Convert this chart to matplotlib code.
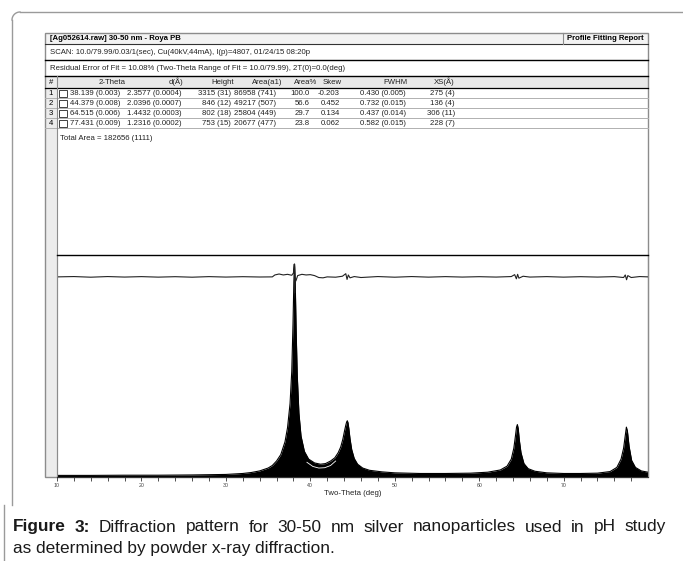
import matplotlib
matplotlib.use("Agg")
import matplotlib.pyplot as plt
from matplotlib.patches import Rectangle
import numpy as np

plt.rcParams['font.family'] = ['Liberation Sans', 'DejaVu Sans']

# report header text
title_txt = "[Ag052614.raw] 30-50 nm - Roya PB"
report_txt = "Profile Fitting Report"
scan_txt = "SCAN: 10.0/79.99/0.03/1(sec), Cu(40kV,44mA), I(p)=4807, 01/24/15 08:20p"
resid_txt = "Residual Error of Fit = 10.08% (Two-Theta Range of Fit = 10.0/79.99), 2T(0)=0.0(deg)"
total_txt = "Total Area = 182656 (1111)"

# peak table
col_names = ["2-Theta", "d(\u00c5)", "Height", "Area(a1)", "Area%", "Skew", "FWHM", "XS(\u00c5)"]
peak_2theta = ["38.139 (0.003)", "44.379 (0.008)", "64.515 (0.006)", "77.431 (0.009)"]
peak_d = ["2.3577 (0.0004)", "2.0396 (0.0007)", "1.4432 (0.0003)", "1.2316 (0.0002)"]
peak_height = ["3315 (31)", "846 (12)", "802 (18)", "753 (15)"]
peak_area = ["86958 (741)", "49217 (507)", "25804 (449)", "20677 (477)"]
peak_pct = ["100.0", "56.6", "29.7", "23.8"]
peak_skew = ["-0.203", "0.452", "0.134", "0.062"]
peak_fwhm = ["0.430 (0.005)", "0.732 (0.015)", "0.437 (0.014)", "0.582 (0.015)"]
peak_xs = ["275 (4)", "136 (4)", "306 (11)", "228 (7)"]

# caption
cap_bold = "Figure 3:"
cap_line1 = "Diffraction pattern for 30-50 nm silver nanoparticles used in pH study"
cap_line2 = "as determined by powder x-ray diffraction."

two_theta = [10, 14, 18, 22, 26, 30, 32, 33, 34, 35, 35.5, 36, 36.5, 37, 37.3, 37.6,
             37.8, 37.95, 38.05, 38.14, 38.22, 38.32, 38.45, 38.65, 38.9, 39.3, 39.8,
             40.5, 41.2, 41.8, 42.4, 42.9, 43.3, 43.6, 43.85, 44.05, 44.2, 44.3, 44.38,
             44.46, 44.56, 44.7, 44.9, 45.2, 45.6, 46.2, 47, 48.5, 50, 53, 56, 59, 61,
             62.5, 63.3, 63.8, 64.1, 64.3, 64.42, 64.52, 64.62, 64.75, 64.95, 65.3, 65.8,
             66.6, 68, 70, 72, 74, 75.5, 76.3, 76.8, 77.1, 77.3, 77.43, 77.55, 77.75,
             78.05, 78.5, 79.2, 79.99]
counts = [25, 25, 28, 28, 32, 40, 55, 70, 95, 140, 180, 250, 350, 550, 770, 1150,
          1650, 2400, 3050, 3330, 3000, 2300, 1600, 1000, 640, 400, 280,
          220, 200, 210, 250, 300, 380, 470, 590, 720, 810, 860, 880,
          850, 760, 600, 430, 290, 200, 140, 105, 80, 65, 55, 55, 60, 75,
          110, 170, 280, 450, 650, 780, 820, 760, 580, 380, 210, 130,
          90, 65, 55, 55, 60, 85, 150, 280, 450, 650, 780, 720, 480,
          260, 150, 95, 75]

# fitted curve showing through between the first two peaks
fit_theta = [39.6, 40.3, 41.0, 41.7, 42.4, 43.0]
fit_counts = [230, 165, 140, 145, 180, 250]

# difference curve (counts, plotted with an offset)
res_theta = [10, 12, 14, 16, 18, 20, 22, 24, 26, 28, 30, 32, 34, 35.5, 35.8, 36.3,
             36.8, 37.3, 37.8, 38.0, 38.1, 38.14, 38.2, 38.3, 38.5, 39, 39.5, 40, 40.5,
             41, 41.5, 42, 43, 43.8, 44.2, 44.35, 44.5, 44.7, 45.2, 46, 48, 50, 52, 54,
             56, 58, 60, 62, 63.8, 64.2, 64.4, 64.55, 64.7, 65.2, 66, 68, 70, 72, 74,
             76, 77.1, 77.3, 77.45, 77.6, 78, 79, 79.99]
res_vals = [0, 5, -5, 5, -3, 4, -4, 3, -5, 4, -3, 3, -2, 0, 30, 45,
            30, 40, 25, 60, 200, -250, -80, -60, 20, 40, 30, 35, 20,
            -10, -15, 0, -5, 10, 50, -40, 30, -15, 5, -10, 5, -5, 5, -4,
            4, -3, 3, -3, 5, 35, -30, 40, -20, 10, -3, 4, -4, 3, -3,
            4, -10, 30, -45, 20, -10, 5, 0]
res_offset = 3130

W, H = 683, 561
fig = plt.figure(figsize=(W / 100, H / 100), dpi=100)
bg = fig.add_axes([0, 0, 1, 1])
bg.set_xlim(0, W)
bg.set_ylim(H, 0)
bg.axis('off')

fs = 5.6
grey = '#8c8c8c'
ink = '#222222'

# outer rounded frame of the figure panel
bg.plot([683, 20], [12, 12], color='#9a9a9a', lw=1)
t = np.linspace(np.pi / 2, np.pi, 20)
bg.plot(20 + 8 * np.cos(t), 20 - 8 * np.sin(t), color='#9a9a9a', lw=1)
bg.plot([12, 12], [20, 505], color='#9a9a9a', lw=1)
bg.plot([4, 4], [505, 561], color='#9a9a9a', lw=1)

# screenshot box
L, R, T, B = 45, 648, 33, 477
bg.add_patch(Rectangle((L, T), R - L, 11, facecolor='#f3f3f3', edgecolor='none'))
bg.add_patch(Rectangle((L, 76), R - L, 12, facecolor='#e9e9e9', edgecolor='none'))
bg.add_patch(Rectangle((L, 76), 12, B - 76, facecolor='#ececec', edgecolor='none'))
bg.add_patch(Rectangle((L, T), R - L, B - T, facecolor='none', edgecolor=grey, lw=1))
bg.plot([L, R], [44, 44], color='#333333', lw=0.8)
bg.plot([L, R], [60, 60], color='black', lw=1)
bg.plot([L, R], [76, 76], color='black', lw=1)
bg.plot([L, R], [88, 88], color='black', lw=0.9)
for yl in [98, 108, 118, 128]:
    bg.plot([L, R], [yl, yl], color='#b0b0b0', lw=0.7)
bg.plot([563, 563], [T, 44], color=grey, lw=0.8)
bg.plot([57, 57], [76, B], color=grey, lw=0.8)

bg.text(50, 38.8, title_txt, fontsize=fs, fontweight='bold', va='center', ha='left')
bg.text(605.5, 38.8, report_txt, fontsize=fs, fontweight='bold', va='center', ha='center')
bg.text(50, 52.5, scan_txt, fontsize=fs, va='center', ha='left', color=ink)
bg.text(50, 68.5, resid_txt, fontsize=fs, va='center', ha='left', color=ink)

# column headers
bg.text(51, 82, "#", fontsize=fs, va='center', ha='center')
head_x = [112, 183, 234, 282, 317, 342, 408, 455]
head_ha = ['center', 'right', 'right', 'right', 'right', 'right', 'right', 'right']
for name, hx, ha in zip(col_names, head_x, head_ha):
    bg.text(hx, 82, name, fontsize=fs, va='center', ha=ha, color=ink)

# peak rows
cols = [peak_2theta, peak_d, peak_height, peak_area, peak_pct, peak_skew, peak_fwhm, peak_xs]
col_x = [70, 127, 231, 276, 310, 340, 360, 455]
col_ha = ['left', 'left', 'right', 'right', 'right', 'right', 'left', 'right']
for i in range(len(peak_2theta)):
    yc = 93 + 10 * i
    bg.text(51, yc, str(i + 1), fontsize=fs, va='center', ha='center')
    bg.add_patch(Rectangle((59, yc - 3.5), 7.5, 7, facecolor='white', edgecolor=ink, lw=0.6))
    for col, cx, ha in zip(cols, col_x, col_ha):
        bg.text(cx, yc, col[i], fontsize=fs, va='center', ha=ha, color=ink)
bg.text(60, 138, total_txt, fontsize=fs, va='center', ha='left', color=ink)

# caption, first line justified
cap_fs = 12.4
cap_left, cap_right = 13, 666
words = [(w, 'bold') for w in cap_bold.split()] + [(w, 'normal') for w in cap_line1.split()]
txts = [bg.text(0, 527, w, fontsize=cap_fs, fontweight=fw,
                va='center', ha='left', color='#1a1a1a')
        for w, fw in words]
rend = fig.canvas.get_renderer()
widths = [tx.get_window_extent(rend).width for tx in txts]
gap = (cap_right - cap_left - sum(widths)) / (len(txts) - 1)
xpos = cap_left
for tx, wd in zip(txts, widths):
    tx.set_x(xpos)
    xpos += wd + gap
bg.text(cap_left, 548, cap_line2, fontsize=cap_fs,
        va='center', ha='left', color='#1a1a1a')

# diffraction pattern axes
x0, x1, y0, y1 = 57, 648, 254.5, 477
ax = fig.add_axes([x0 / W, 1 - y1 / H, (x1 - x0) / W, (y1 - y0) / H])
ax.set_xlim(10, 79.99)
ax.set_ylim(0, 3480)
ax.fill_between(two_theta, 0, counts, color='black', lw=0)
ax.plot(two_theta, counts, color='black', lw=0.8)
ax.plot(fit_theta, fit_counts, color='white', lw=0.6)
ax.plot(res_theta, np.array(res_vals) + res_offset, color=ink, lw=0.8)

ax.set_xticks(np.arange(10, 80, 2), minor=True)
ax.set_xticks([10, 20, 30, 40, 50, 60, 70])
ax.set_yticks([])
ax.tick_params(axis='x', which='both', direction='out', length=3, width=0.6,
               color='#333333', labelsize=3.8, labelcolor='#444444', pad=1.5)
ax.set_xlabel("Two-Theta (deg)", fontsize=5.6, labelpad=1.5, color=ink)
ax.spines['top'].set_color('black')
ax.spines['top'].set_linewidth(1)
ax.spines['bottom'].set_color('#333333')
ax.spines['bottom'].set_linewidth(0.8)
ax.spines['left'].set_color(grey)
ax.spines['left'].set_linewidth(0.8)
ax.spines['right'].set_color(grey)
ax.spines['right'].set_linewidth(0.8)
ax.patch.set_alpha(0)

fig.savefig("out.png", dpi=100)
